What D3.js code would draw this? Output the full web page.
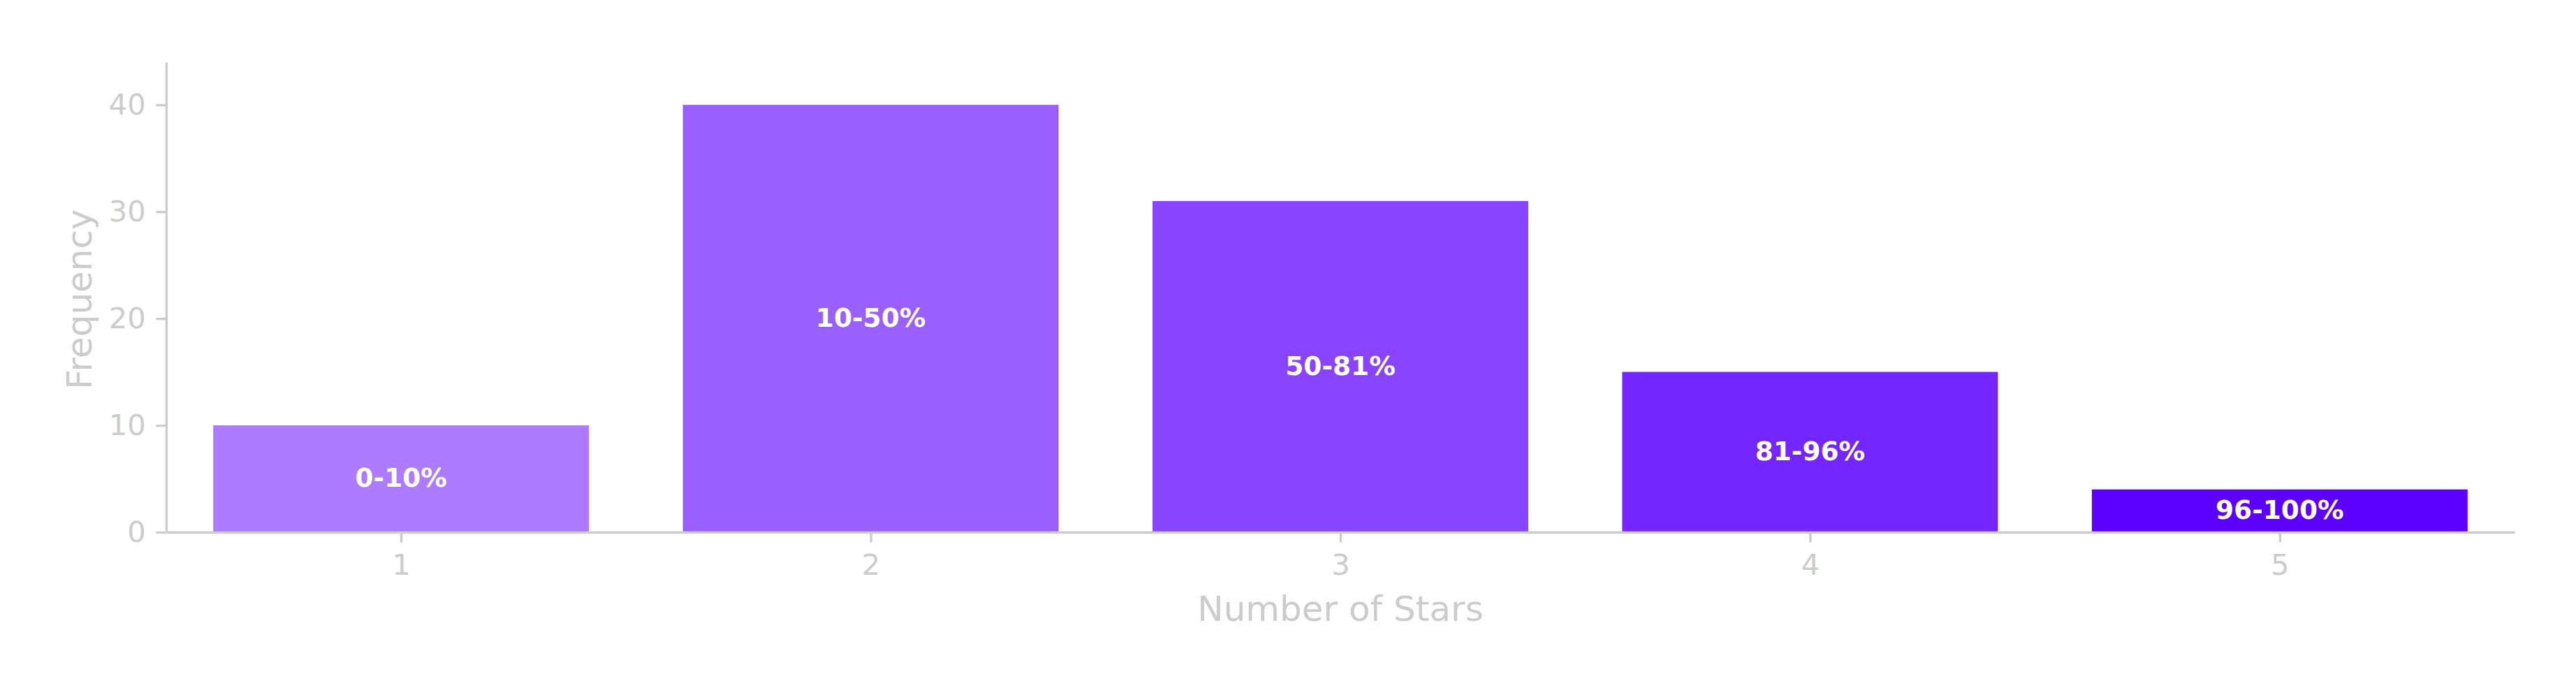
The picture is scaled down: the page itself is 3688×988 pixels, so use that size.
<!DOCTYPE html>
<html>
<head>
<meta charset="utf-8">
<script src="https://cdn.jsdelivr.net/npm/d3@7"></script>
<style>
  html, body { margin: 0; padding: 0; background: #ffffff; }
  svg { display: block; }
  text { font-family: "DejaVu Sans", sans-serif; }
</style>
</head>
<body>
<svg id="chart" width="3688" height="988"></svg>
<script>
const categories = [1, 2, 3, 4, 5];
const frequencies = [10, 40, 31, 15, 4];
const barLabels = ["0-10%", "10-50%", "50-81%", "81-96%", "96-100%"];
const barColors = ["#AC7BFF", "#9A60FF", "#8844FF", "#7426FF", "#5B00FF"];
const yTicks = [0, 10, 20, 30, 40];
const xLabel = "Number of Stars";
const yLabel = "Frequency";

(function () {
const plotLeft = 238, plotRight = 3600, plotTop = 89, plotBottom = 762;
const axisColor = "#cccccc";
const lw = 3.33;
const tickLen = 14.6, tickPad = 14.6;

const svg = d3.select("#chart");

const x = d3.scaleLinear().domain([0.5, 5.5]).range([plotLeft, plotRight]);
const y = d3.scaleLinear().domain([0, 44]).range([plotBottom, plotTop]);
const barW = 0.8;

// bars
svg.append("g").selectAll("rect")
  .data(categories)
  .join("rect")
  .attr("x", (d) => x(d - barW / 2))
  .attr("width", (d) => x(d + barW / 2) - x(d - barW / 2))
  .attr("y", (d, i) => y(frequencies[i]))
  .attr("height", (d, i) => y(0) - y(frequencies[i]))
  .attr("fill", (d, i) => barColors[i]);

// bar labels
const labFs = 37.5;
svg.append("g").selectAll("text")
  .data(categories)
  .join("text")
  .attr("x", (d) => x(d))
  .attr("y", (d, i) => y(frequencies[i] / 2) + labFs * 0.729 / 2 - 2)
  .attr("text-anchor", "middle")
  .attr("font-size", labFs)
  .attr("font-weight", "bold")
  .attr("fill", "#ffffff")
  .text((d, i) => barLabels[i]);

// x axis
const xAxis = d3.axisBottom(x)
  .tickValues(categories)
  .tickFormat(d3.format("d"))
  .tickSize(tickLen)
  .tickSizeOuter(0)
  .tickPadding(tickPad);
const gx = svg.append("g").attr("transform", `translate(0,${plotBottom})`).call(xAxis);
gx.select(".domain").attr("stroke", axisColor).attr("stroke-width", lw);
gx.selectAll(".tick line").attr("stroke", axisColor).attr("stroke-width", lw);
gx.selectAll(".tick text")
  .attr("fill", axisColor)
  .attr("font-size", 41.67)
  .attr("font-family", "DejaVu Sans, sans-serif")
  .attr("dy", null)
  .attr("y", 61);

// y axis
const yAxis = d3.axisLeft(y)
  .tickValues(yTicks)
  .tickFormat(d3.format("d"))
  .tickSize(tickLen)
  .tickSizeOuter(0)
  .tickPadding(tickPad);
const gy = svg.append("g").attr("transform", `translate(${plotLeft},0)`).call(yAxis);
gy.select(".domain").attr("stroke", axisColor).attr("stroke-width", lw);
gy.selectAll(".tick line").attr("stroke", axisColor).attr("stroke-width", lw);
gy.selectAll(".tick text")
  .attr("fill", axisColor)
  .attr("font-size", 41.67)
  .attr("font-family", "DejaVu Sans, sans-serif");

// axis labels
svg.append("text")
  .attr("x", (plotLeft + plotRight) / 2)
  .attr("y", 889)
  .attr("text-anchor", "middle")
  .attr("font-size", 50)
  .attr("fill", axisColor)
  .text(xLabel);

svg.append("text")
  .attr("transform", `translate(131,${(plotTop + plotBottom) / 2 + 3}) rotate(-90)`)
  .attr("text-anchor", "middle")
  .attr("font-size", 50)
  .attr("fill", axisColor)
  .text(yLabel);
})();
</script>
</body>
</html>
